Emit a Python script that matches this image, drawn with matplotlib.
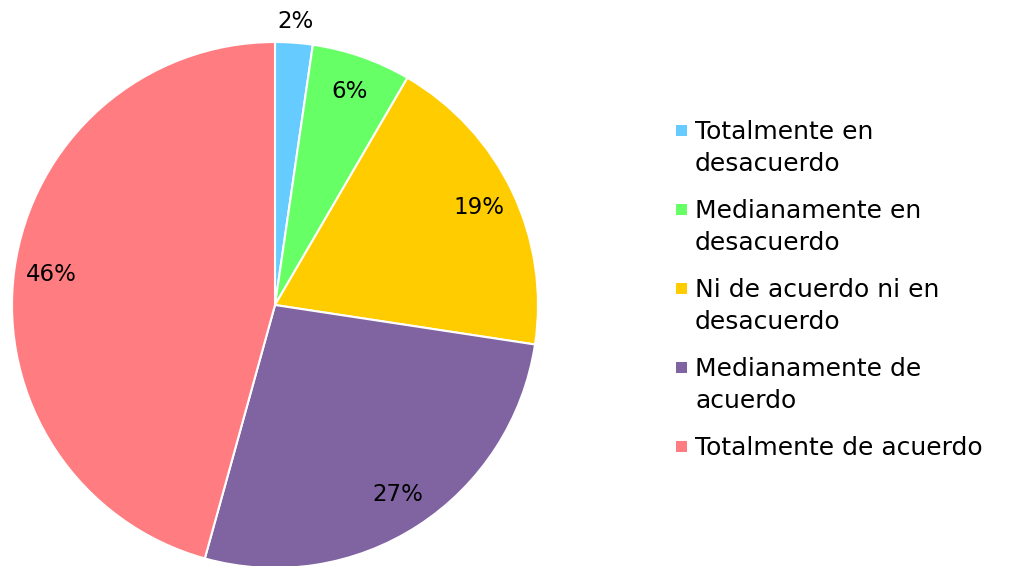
import matplotlib

matplotlib.use("Agg")
import matplotlib.pyplot as plt
import numpy as np
from matplotlib.patches import Rectangle

labels = [
    "Totalmente en\ndesacuerdo",
    "Medianamente en\ndesacuerdo",
    "Ni de acuerdo ni en\ndesacuerdo",
    "Medianamente de\nacuerdo",
    "Totalmente de acuerdo",
]
shares = [2.3, 6.1, 19.0, 26.9, 45.7]
colors = ["#66CCFF", "#66FF66", "#FFCC00", "#8064A2", "#FF7C80"]

W, H = 1013, 566
fig = plt.figure(figsize=(W / 100, H / 100), dpi=100)

# pie centred at (275, 305) px, radius 263 px
cx, cy, r = 275, H - 305, 263
ax = fig.add_axes([(cx - r) / W, (cy - r) / H, 2 * r / W, 2 * r / H])
wedges, _, autotexts = ax.pie(
    shares,
    colors=colors,
    startangle=90,
    counterclock=False,
    autopct=lambda p: f"{p:.0f}%",
    pctdistance=0.86,
    wedgeprops=dict(edgecolor="white", linewidth=1.5),
    textprops=dict(fontsize=16.5, color="black"),
)
ax.set_xlim(-1, 1)
ax.set_ylim(-1, 1)
ax.set_aspect("equal")
ax.axis("off")

# the smallest label sits just outside the pie
w0 = wedges[0]
mid = np.deg2rad((w0.theta1 + w0.theta2) / 2)
autotexts[0].set_position((1.08 * np.cos(mid), 1.08 * np.sin(mid)))

# legend drawn by hand so the square lines up with the first text line
x_sq, x_txt = 676, 695
base0, step, line_h, sq = 139, 79, 32, 11
for i, (lab, col) in enumerate(zip(labels, colors)):
    base = base0 + i * step
    fig.patches.append(Rectangle((x_sq / W, (H - base + 3) / H), sq / W, sq / H,
                                 transform=fig.transFigure, facecolor=col,
                                 edgecolor="none"))
    for j, line in enumerate(lab.split("\n")):
        fig.text(x_txt / W, (H - base - j * line_h) / H, line, fontsize=18,
                 va="baseline", ha="left", color="black")

fig.savefig("out.png", dpi=100)
plt.close(fig)
